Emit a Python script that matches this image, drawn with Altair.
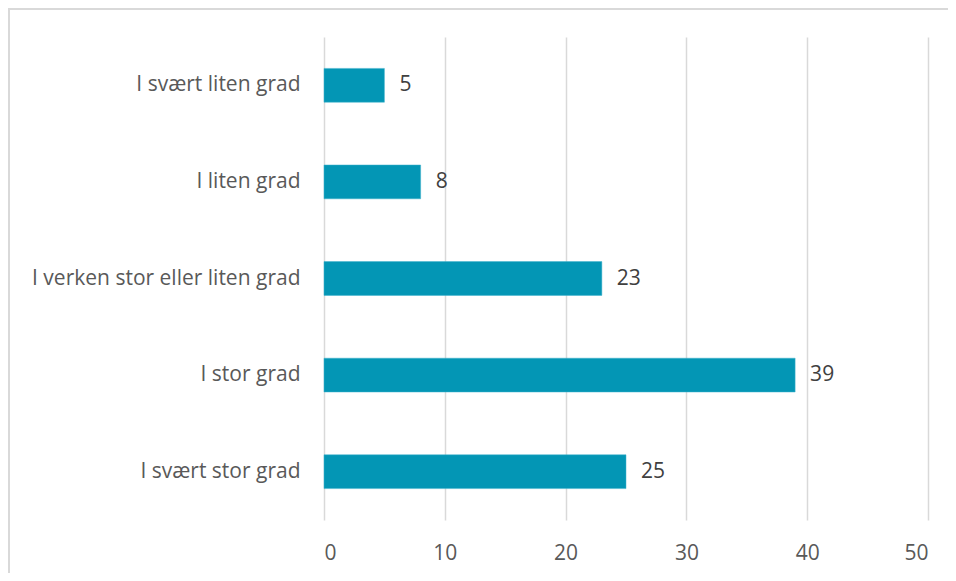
import altair as alt
import pandas as pd

categories = ["I svært liten grad", "I liten grad", "I verken stor eller liten grad", "I stor grad", "I svært stor grad"]
values = [5, 8, 23, 39, 25]
x_ticks = [0, 10, 20, 30, 40, 50]

df = pd.DataFrame({"kategori": categories, "verdi": values})

FONT = "Open Sans"
TEXT = "#595959"
FS = 21
W, H = 604, 483

y_enc = alt.Y("kategori:N", sort=categories, title=None,
              scale=alt.Scale(paddingInner=0.65, paddingOuter=0.325),
              axis=alt.Axis(domain=False, ticks=False, labelPadding=24, labelFontSize=FS,
                            labelColor=TEXT, labelFont=FONT, grid=False, labelLimit=400))
x_enc = alt.X("verdi:Q", title=None,
              scale=alt.Scale(domain=[0, 50], nice=False),
              axis=alt.Axis(values=x_ticks, domain=False, ticks=False, grid=True,
                            gridColor="#d9d9d9", gridWidth=1.5, labelPadding=22,
                            labelFontSize=FS, labelColor=TEXT, labelFont=FONT))

bars = alt.Chart(df).mark_bar(color="#0396B5", stroke="#3fb3cc", strokeWidth=0.5).encode(x=x_enc, y=y_enc)
labels = alt.Chart(df).mark_text(align="left", baseline="middle", dx=15, fontSize=FS,
                                 font=FONT, color="#404040").encode(
    x="verdi:Q", y=alt.Y("kategori:N", sort=categories), text="verdi:Q")

border = alt.Chart(pd.DataFrame({"b": [0]})).mark_rect(
    fill=None, stroke="#d9d9d9", strokeWidth=2).encode(
    x=alt.value(-315), x2=alt.value(W + 60), y=alt.value(-28), y2=alt.value(H + 100))

chart = alt.layer(bars, labels, border).properties(
    width=W, height=H,
    autosize=alt.AutoSizeParams(type="none"),
    padding={"left": 316, "top": 29, "right": 20, "bottom": 53},
).configure_view(stroke=None)

chart.save("out.html", embed_options={"renderer": "svg", "actions": False})
